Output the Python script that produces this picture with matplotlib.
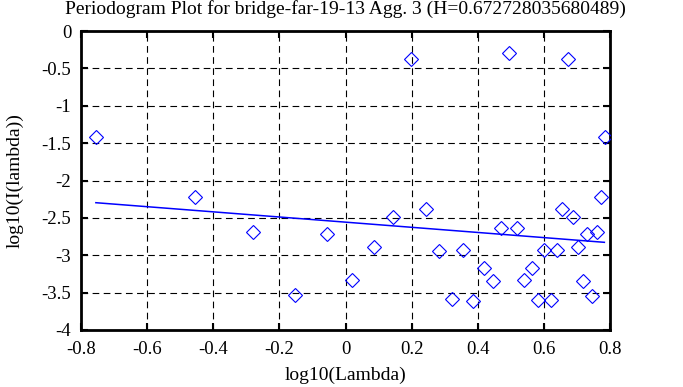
import matplotlib
matplotlib.use("Agg")
import matplotlib.pyplot as plt
import numpy as np

title = "Periodogram Plot for bridge-far-19-13 Agg. 3 (H=0.672728035680489)"
log_lambda = [-0.755, 0.197, 0.4955, 0.673, 0.785, -0.455, -0.279, -0.153, -0.057, 0.0207,
              0.0873, 0.1447, 0.2436, 0.284, 0.321, 0.3555, 0.387, 0.419, 0.445, 0.471,
              0.520, 0.541, 0.564, 0.583, 0.601, 0.6226, 0.640, 0.655, 0.687, 0.7025,
              0.7175, 0.7316, 0.7457, 0.760, 0.772]
log_I = [-1.418, -0.379, -0.298, -0.375, -1.414, -2.225, -2.693, -3.532, -2.716, -3.331,
         -2.894, -2.493, -2.381, -2.939, -3.59, -2.93, -3.608, -3.17, -3.34, -2.635,
         -2.635, -3.335, -3.17, -3.603, -2.93, -3.6, -2.934, -2.381, -2.488, -2.894,
         -3.34, -2.716, -3.54, -2.685, -2.225]
fit_x = [-0.755, 0.783]
fit_y = [-2.297, -2.827]

xticks = [-0.8, -0.6, -0.4, -0.2, 0, 0.2, 0.4, 0.6, 0.8]
xticklabels = ["-0.8", "-0.6", "-0.4", "-0.2", "0", "0.2", "0.4", "0.6", "0.8"]
yticks = [0, -0.5, -1, -1.5, -2, -2.5, -3, -3.5, -4]
yticklabels = ["0", "-0.5", "-1", "-1.5", "-2", "-2.5", "-3", "-3.5", "-4"]

plt.rcParams['font.family'] = ['Liberation Serif', 'DejaVu Serif']

W, H = 683, 387
fig = plt.figure(figsize=(W/100, H/100), dpi=100)
ax = fig.add_axes([81/W, 1 - 330/H, (610-81)/W, (330-31)/H])

ax.plot(log_lambda, log_I, linestyle='none', marker='D', markersize=7,
        markerfacecolor='none', markeredgecolor='#0000ff', markeredgewidth=0.8, zorder=3)
ax.plot(fit_x, fit_y, color='#0000ff', linewidth=1.1, zorder=3)

ax.set_xlim(-0.8, 0.8)
ax.set_ylim(-4, 0)
ax.set_xticks(xticks)
ax.set_xticklabels(xticklabels)
ax.set_yticks(yticks)
ax.set_yticklabels(yticklabels)
ax.grid(True, color='black', linestyle=(0, (6, 4)), linewidth=0.8)
ax.tick_params(direction='in', length=5, width=1.5, top=True, right=True, labelsize=13.5)
ax.tick_params(axis='x', pad=8)
ax.tick_params(axis='y', pad=7)
for s in ax.spines.values():
    s.set_linewidth(2)

fig.text(345.5/W, 1 - 9/H, title, fontsize=14, ha='center', va='center')
fig.text(346/W, 1 - 375/H, "log10(Lambda)", fontsize=14, ha='center', va='center')
fig.text(15/W, 1 - 181/H, "log10(I(lambda))", fontsize=14, ha='center', va='center',
         rotation=90)

fig.savefig("out.png", dpi=100)
